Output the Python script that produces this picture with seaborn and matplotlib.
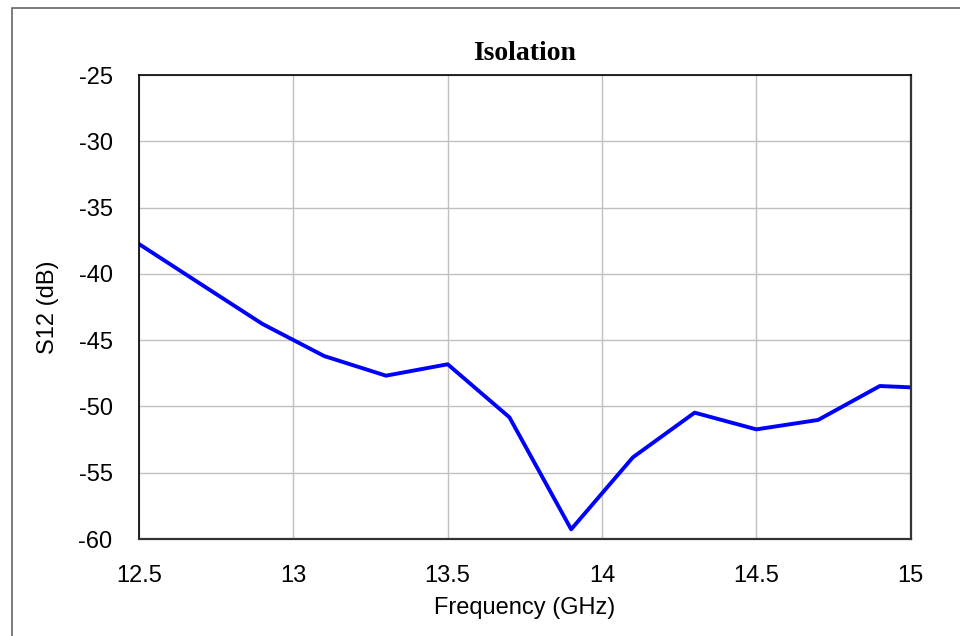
import matplotlib
matplotlib.use("Agg")
import matplotlib.pyplot as plt
import seaborn as sns
import pandas as pd
from matplotlib.patches import Rectangle

freq = [12.5, 12.7, 12.9, 13.1, 13.3, 13.5, 13.7, 13.9, 14.1, 14.3, 14.5, 14.7, 14.9, 15.0]
s12 = [-37.75, -40.77, -43.78, -46.2, -47.68, -46.82, -50.82, -59.27, -53.84, -50.47, -51.73, -51.02, -48.46, -48.56]
xticks = [12.5, 13, 13.5, 14, 14.5, 15]
xticklabels = ["12.5", "13", "13.5", "14", "14.5", "15"]
yticks = [-60, -55, -50, -45, -40, -35, -30, -25]

sns.set_style("white")
plt.rcParams['font.family'] = ['Liberation Sans', 'DejaVu Sans']
plt.rcParams['text.color'] = 'black'
plt.rcParams['axes.labelcolor'] = 'black'

fig = plt.figure(figsize=(9.6, 6.36), dpi=100)
ax = fig.add_axes([139/960, 1 - 539/636, (910.7 - 139)/960, (539 - 75)/636])

df = pd.DataFrame({"Frequency": freq, "S12": s12})
sns.lineplot(data=df, x="Frequency", y="S12", ax=ax, color="#0000ff", linewidth=2.8)

ax.set_xlim(12.5, 15)
ax.set_ylim(-60, -25)
ax.set_xticks(xticks)
ax.set_xticklabels(xticklabels)
ax.set_yticks(yticks)
ax.set_yticklabels([str(v) for v in yticks])
ax.tick_params(axis='both', length=0, labelsize=17, colors='black')
ax.tick_params(axis='x', pad=18.5)
ax.tick_params(axis='y', pad=19)
ax.grid(True, color="#c0c0c0", linewidth=1.0)
ax.set_axisbelow(True)
for side in ['left', 'top']:
    ax.spines[side].set_color('black')
    ax.spines[side].set_linewidth(1.2)
for side in ['right', 'bottom']:
    ax.spines[side].set_color('#333333')
    ax.spines[side].set_linewidth(1.6)

ax.set_xlabel("Frequency (GHz)", fontsize=17, labelpad=7.5, color='black')
ax.set_ylabel("S12 (dB)", fontsize=17, labelpad=14, color='black')
ax.set_title("Isolation", fontsize=20, fontweight='bold', family='Liberation Serif', pad=11, color='black')

fig.patches.append(Rectangle((12/960, -0.1), 1.2, 1 - 8/636 + 0.1, transform=fig.transFigure,
                             fill=False, edgecolor='#666666', linewidth=1.2))

fig.savefig("out.png", dpi=100)
